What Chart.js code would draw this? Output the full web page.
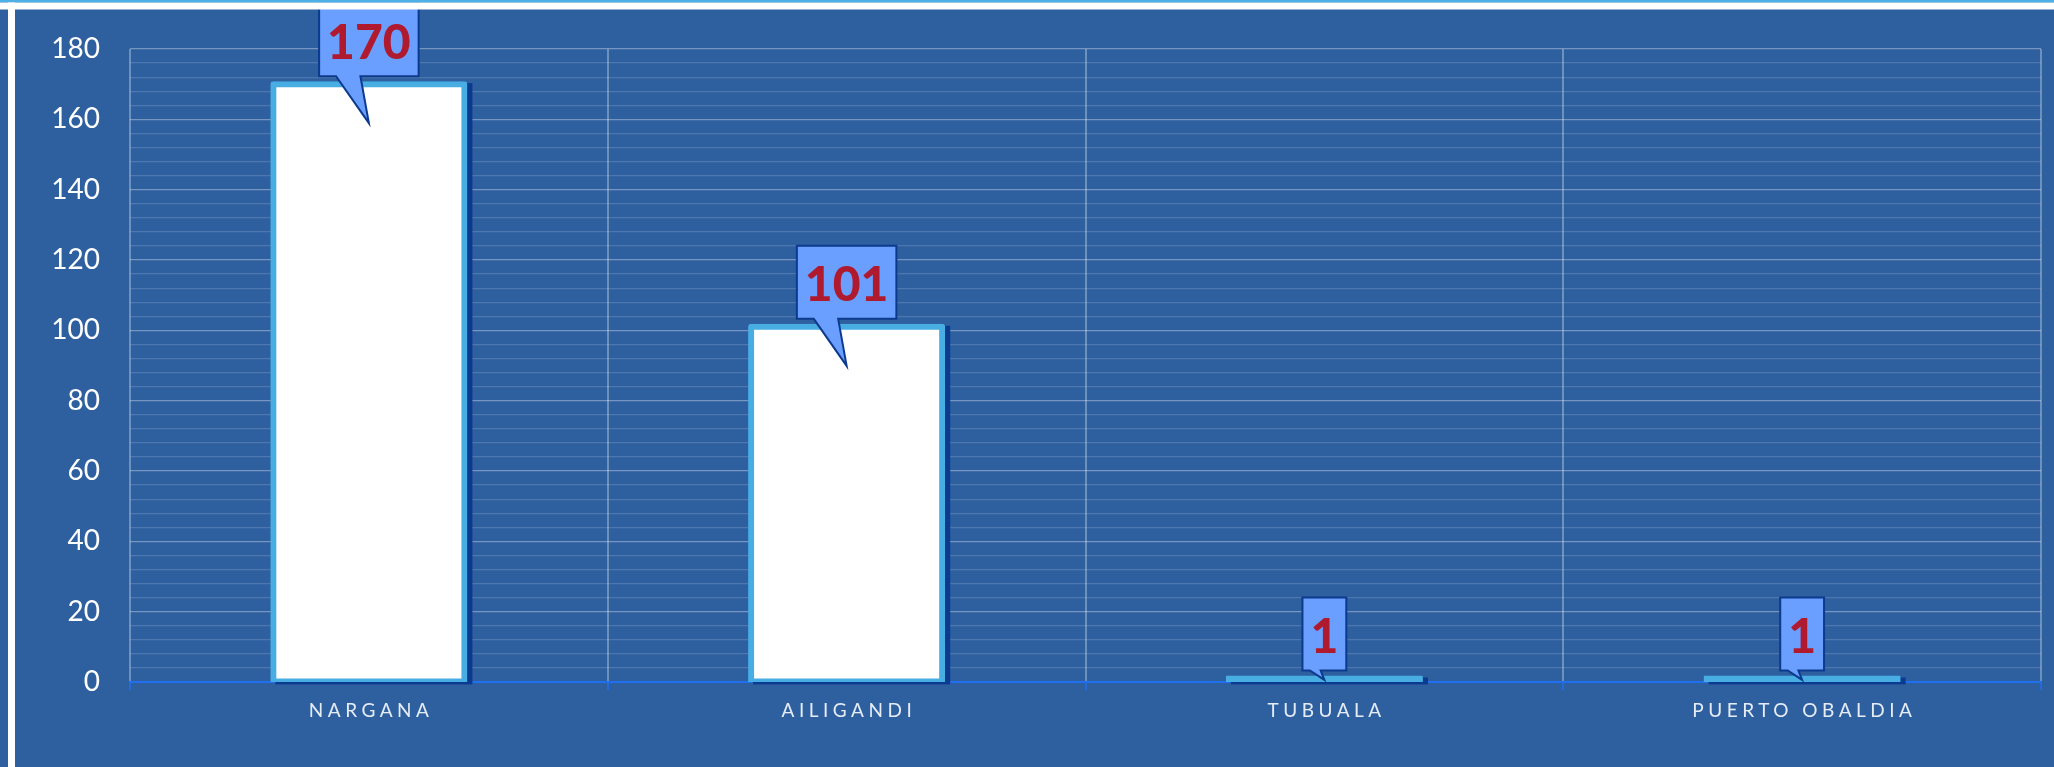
<!DOCTYPE html>
<html>
<head>
<meta charset="utf-8">
<script src="https://cdn.jsdelivr.net/npm/chart.js@4.4.1/dist/chart.umd.min.js"></script>
<style>
  html, body { margin: 0; padding: 0; background: #2E60A0; overflow: hidden; }
  canvas { display: block; }
</style>
</head>
<body>
<canvas id="c" width="2054" height="767" style="width:2054px;height:767px"></canvas>
<script>
// ---- data ----
const categories = ['NARGANA', 'AILIGANDI', 'TUBUALA', 'PUERTO OBALDIA'];
const values = [170, 101, 1, 1];
const yMax = 180;
const yMajorStep = 20;
const yMinorStep = 4;

// ---- styles ----
const BG = '#2E60A0';
const BAR_BORDER = '#48ADE3';
const BAR_SHADOW = '#0B3A8E';
const CALLOUT_FILL = '#6A9EFF';
const CALLOUT_STROKE = '#0C3A8C';
const CALLOUT_TEXT = '#AF1A2E';
const AXIS_BLUE = '#1F6FF0';
const BORDER_W = 6;
const X_LETTER_SPACING = 4.5;

class SpacedCategoryScale extends Chart.CategoryScale {
  drawLabels(chartArea) {
    const ctx = this.ctx;
    ctx.save();
    ctx.letterSpacing = X_LETTER_SPACING + 'px';
    ctx.translate(X_LETTER_SPACING / 2, 0);
    super.drawLabels(chartArea);
    ctx.restore();
  }
}
SpacedCategoryScale.id = 'spacedCategory';
SpacedCategoryScale.defaults = Chart.CategoryScale.defaults;
Chart.register(SpacedCategoryScale);

const framePlugin = {
  id: 'frame',
  beforeDraw(chart) {
    const ctx = chart.ctx;
    ctx.save();
    ctx.fillStyle = BG;
    ctx.fillRect(0, 0, chart.width, chart.height);
    ctx.restore();
  },
  afterDraw(chart) {
    const ctx = chart.ctx;
    ctx.save();
    ctx.fillStyle = '#4DB0E6';
    ctx.fillRect(0, 0, chart.width, 2.5);
    ctx.fillStyle = '#FFFFFF';
    ctx.fillRect(0, 2.5, chart.width, 7);
    ctx.fillRect(8, 2.5, 7, chart.height);
    ctx.restore();
  }
};

const shadowPlugin = {
  id: 'barShadow',
  beforeDatasetsDraw(chart) {
    const ctx = chart.ctx;
    const meta = chart.getDatasetMeta(0);
    ctx.save();
    ctx.fillStyle = BAR_SHADOW;
    meta.data.forEach(el => {
      const p = el.getProps(['x', 'y', 'base', 'width'], true);
      const left = p.x - p.width / 2 - 3;
      const right = p.x + p.width / 2 + 3;
      const top = Math.min(p.y, p.base) - 3;
      const bottom = Math.max(p.y, p.base) + 3;
      ctx.fillRect(left + 5, top + 2, right - left, bottom - top - 2);
    });
    ctx.restore();
  }
};

const calloutPlugin = {
  id: 'callouts',
  afterDatasetsDraw(chart) {
    const ctx = chart.ctx;
    const meta = chart.getDatasetMeta(0);
    ctx.save();
    meta.data.forEach((el, i) => {
      const p = el.getProps(['x', 'y', 'base'], true);
      const label = String(values[i]);
      ctx.font = 'bold 48px Lato';
      const tw = ctx.measureText(label).width;
      const W = tw + 16;
      const H = 73;
      const c = p.x;
      const boxBottom = p.y - 8;
      const boxTop = boxBottom - H;
      const tipY = p.y + Math.min(39, (p.base - p.y) / 2);
      ctx.beginPath();
      ctx.moveTo(c - W / 2, boxTop);
      ctx.lineTo(c + W / 2, boxTop);
      ctx.lineTo(c + W / 2, boxBottom);
      ctx.lineTo(c - 0.085 * W, boxBottom);
      ctx.lineTo(c, tipY);
      ctx.lineTo(c - 0.33 * W, boxBottom);
      ctx.lineTo(c - W / 2, boxBottom);
      ctx.closePath();
      ctx.fillStyle = CALLOUT_FILL;
      ctx.fill();
      ctx.lineWidth = 2;
      ctx.lineJoin = 'miter';
      ctx.strokeStyle = CALLOUT_STROKE;
      ctx.stroke();
      ctx.font = '900 48px Lato';
      ctx.fillStyle = CALLOUT_TEXT;
      ctx.textAlign = 'center';
      ctx.textBaseline = 'alphabetic';
      ctx.fillText(label, c, boxBottom - 17.5);
    });
    ctx.restore();
  }
};

new Chart(document.getElementById('c'), {
  type: 'bar',
  data: {
    labels: categories,
    datasets: [{
      data: values,
      backgroundColor: (ctx) => {
        const y = ctx.chart.scales && ctx.chart.scales.y;
        if (!y || ctx.raw === undefined) return '#FFFFFF';
        const h = Math.abs(y.getPixelForValue(ctx.raw) - y.getPixelForValue(0));
        return h < BORDER_W ? BAR_BORDER : '#FFFFFF';
      },
      borderColor: BAR_BORDER,
      borderWidth: BORDER_W,
      borderSkipped: false,
      borderRadius: 3,
      inflateAmount: 3,
      barPercentage: 0.4,
      categoryPercentage: 1.0
    }]
  },
  options: {
    responsive: false,
    animation: false,
    devicePixelRatio: 1,
    layout: { padding: { top: 49, left: 0, right: 13, bottom: 0 } },
    plugins: { legend: { display: false }, tooltip: { enabled: false } },
    scales: {
      x: {
        type: 'spacedCategory',
        offset: true,
        grid: {
          offset: true,
          color: 'rgba(255,255,255,0.30)',
          lineWidth: 2,
          drawTicks: true,
          tickLength: 8,
          tickColor: AXIS_BLUE,
          tickWidth: 1.5
        },
        border: { display: true, color: AXIS_BLUE, width: 2 },
        ticks: {
          color: '#E6ECF5',
          font: { family: 'Lato', size: 19 },
          padding: 9,
          maxRotation: 0,
          autoSkip: false
        },
        afterFit(scale) { scale.height = 85; }
      },
      y: {
        min: 0,
        max: yMax,
        grid: {
          color: (ctx) => (ctx.tick && ctx.tick.value % yMajorStep === 0) ? 'rgba(255,255,255,0.34)' : 'rgba(255,255,255,0.15)',
          lineWidth: 1.2,
          drawTicks: false,
          tickLength: 0
        },
        border: { display: false },
        ticks: {
          stepSize: yMinorStep,
          autoSkip: false,
          color: '#FFFFFF',
          font: { family: 'Lato', size: 28 },
          padding: 30,
          callback: (v) => (v % yMajorStep === 0 ? v : '')
        },
        afterFit(scale) { scale.width = 130; }
      }
    }
  },
  plugins: [framePlugin, shadowPlugin, calloutPlugin]
});
</script>
</body>
</html>
